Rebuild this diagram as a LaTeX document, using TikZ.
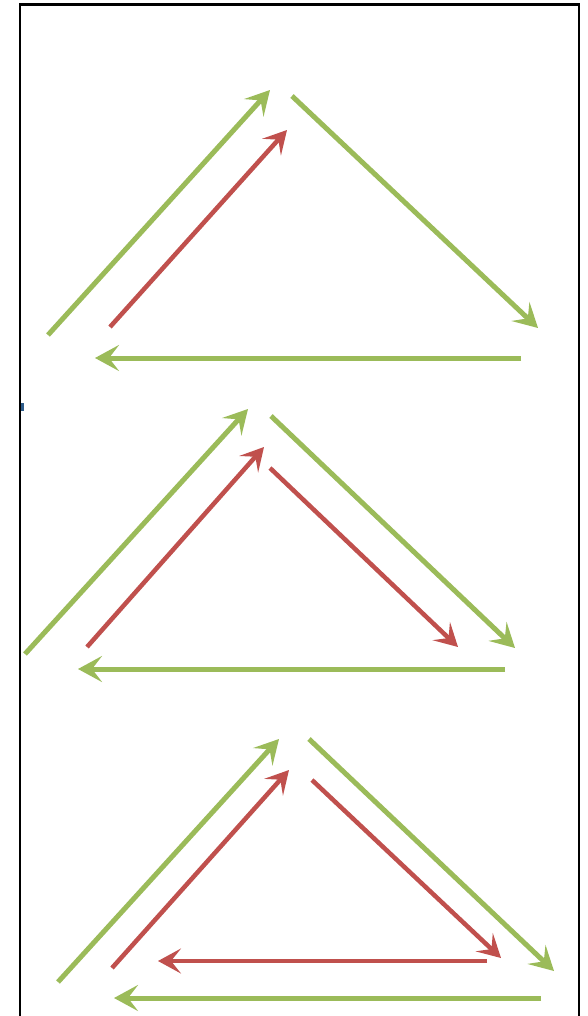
\documentclass[tikz,border=0pt]{standalone}
\usetikzlibrary{arrows.meta}
\definecolor{olivegreen}{HTML}{9BBB59}
\definecolor{brickred}{HTML}{C0504D}
\definecolor{speckblue}{HTML}{2E5C8A}
\tikzset{
  garrow/.style={draw=olivegreen, line width=5pt, -{Stealth[length=24pt,width=26pt,inset=10pt]}},
  rarrow/.style={draw=brickred, line width=4.5pt, -{Stealth[length=23pt,width=25pt,inset=10pt]}},
  frameline/.style={draw=black, line width=2.5pt}
}
\begin{document}
\begin{tikzpicture}[x=1pt,y=-1pt]
\useasboundingbox (0,0) rectangle (588,1016);
\fill[white] (0,0) rectangle (588,1016);
% frame
\coordinate (fbl) at (20,1020);
\coordinate (ftl) at (20,4.5);
\coordinate (ftr) at (579,4.5);
\coordinate (fbr) at (579,1020);
\draw[frameline] (fbl) -- (ftl) -- (ftr) -- (fbr);
\fill[speckblue] (21,403) rectangle (23.5,411);
% ---- triangle 1
\coordinate (a1s) at (48,335);  \coordinate (a1e) at (270,90);
\coordinate (b1s) at (110,327); \coordinate (b1e) at (287,130);
\coordinate (c1s) at (292,96);  \coordinate (c1e) at (538,328);
\coordinate (d1s) at (521,358); \coordinate (d1e) at (95,358);
\draw[garrow] (a1s) -- (a1e);
\draw[rarrow] (b1s) -- (b1e);
\draw[garrow] (c1s) -- (c1e);
\draw[garrow] (d1s) -- (d1e);
% ---- triangle 2
\coordinate (a2s) at (25,654);  \coordinate (a2e) at (248,409);
\coordinate (b2s) at (87,647);  \coordinate (b2e) at (264,447);
\coordinate (c2s) at (271,416); \coordinate (c2e) at (515,648);
\coordinate (e2s) at (270,468); \coordinate (e2e) at (458,647);
\coordinate (d2s) at (505,669); \coordinate (d2e) at (78,669);
\draw[garrow] (a2s) -- (a2e);
\draw[rarrow] (b2s) -- (b2e);
\draw[garrow] (c2s) -- (c2e);
\draw[rarrow] (e2s) -- (e2e);
\draw[garrow] (d2s) -- (d2e);
% ---- triangle 3
\coordinate (a3s) at (58,982);  \coordinate (a3e) at (279,739);
\coordinate (b3s) at (112,968); \coordinate (b3e) at (289,770);
\coordinate (c3s) at (309,739); \coordinate (c3e) at (554,971);
\coordinate (e3s) at (312,780); \coordinate (e3e) at (501,958);
\coordinate (f3s) at (487,961); \coordinate (f3e) at (158,961);
\coordinate (d3s) at (541,998); \coordinate (d3e) at (114,998);
\draw[garrow] (a3s) -- (a3e);
\draw[rarrow] (b3s) -- (b3e);
\draw[garrow] (c3s) -- (c3e);
\draw[rarrow] (e3s) -- (e3e);
\draw[rarrow] (f3s) -- (f3e);
\draw[garrow] (d3s) -- (d3e);
\end{tikzpicture}
\end{document}
